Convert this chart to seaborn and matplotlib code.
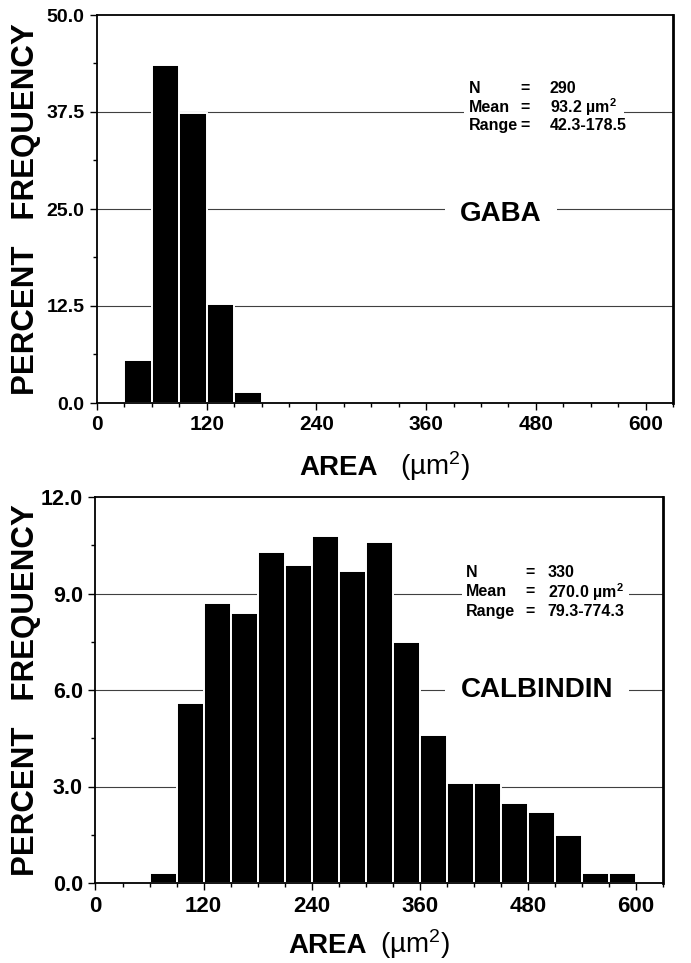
import pandas as pd
import seaborn as sns
import matplotlib.pyplot as plt
from matplotlib.patches import Rectangle
from matplotlib.ticker import MultipleLocator, FixedLocator
from matplotlib.transforms import ScaledTranslation, blended_transform_factory

# bin starts (um^2), every bin is 30 um^2 wide; heights are percent frequency
gaba_start = [30, 60, 90, 120, 150]
gaba_pct = [5.5, 43.5, 37.4, 12.7, 1.4]
gaba_stats = ['290', '93.2 µm$^2$', '42.3-178.5']

calb_start = [60, 90, 120, 150, 180, 210, 240, 270, 300, 330, 360, 390,
              420, 450, 480, 510, 540, 570]
calb_pct = [0.3, 5.6, 8.7, 8.4, 10.3, 9.9, 10.8, 9.7, 10.6, 7.5, 4.6, 3.1,
            3.1, 2.5, 2.2, 1.5, 0.3, 0.3]
calb_stats = ['330', '270.0 µm$^2$', '79.3-774.3']

stat_names = ['N', 'Mean', 'Range']
x_ticks = [0, 120, 240, 360, 480, 600]
gaba_yticks = [0.0, 12.5, 25.0, 37.5, 50.0]
calb_yticks = [0.0, 3.0, 6.0, 9.0, 12.0]
binw = 30

sns.set_style('ticks')
FONT = ['Liberation Sans', 'DejaVu Sans']
plt.rcParams['font.family'] = FONT
plt.rcParams['font.weight'] = 'bold'
plt.rcParams['mathtext.default'] = 'regular'
for k in ['text.color', 'axes.labelcolor', 'xtick.color', 'ytick.color',
          'axes.edgecolor']:
    plt.rcParams[k] = 'black'

W, H = 691, 963
fig = plt.figure(figsize=(W / 100, H / 100), dpi=100)


def px_rect(l, t, r, b):
    return [l / W, 1 - b / H, (r - l) / W, (b - t) / H]


def panel(rect, start, pct, yticks, name, stats, ytick_fs, xtick_fs, lab_dx,
          name_pos, stat_x, stat_y, row_gap, white_box):
    ax = fig.add_axes(rect)
    df = pd.DataFrame({'mid': [s + binw / 2 for s in start], 'pct': pct})
    sns.histplot(data=df, x='mid', weights='pct', binwidth=binw,
                 binrange=(start[0], start[-1] + binw),
                 color='black', edgecolor='white', linewidth=1.4, alpha=1,
                 ax=ax)
    ax.set_xlim(0, 630)
    ax.set_ylim(yticks[0], yticks[-1])
    ax.set_xlabel('')
    ax.set_ylabel('')

    ax.xaxis.set_major_locator(FixedLocator(x_ticks))
    ax.xaxis.set_minor_locator(MultipleLocator(30))
    ax.yaxis.set_major_locator(FixedLocator(yticks))
    ax.yaxis.set_minor_locator(MultipleLocator((yticks[1] - yticks[0]) / 2))
    ax.set_yticklabels([f'{v:.1f}' for v in yticks], weight='bold',
                       fontsize=ytick_fs)
    ax.set_xticklabels([str(v) for v in x_ticks], weight='bold',
                       fontsize=xtick_fs)
    # labels in the original sit a little right of their ticks
    for lab in ax.get_xticklabels():
        lab.set_transform(lab.get_transform() +
                          ScaledTranslation(lab_dx / 100, 0, fig.dpi_scale_trans))
    ax.tick_params(which='major', direction='out', length=5, width=1,
                   pad=4, colors='black')
    ax.tick_params(which='minor', direction='out', length=3, width=1)

    for yv in yticks[1:-1]:
        ax.axhline(yv, color='0.25', lw=0.8, zorder=0.5)
    for s in ax.spines.values():
        s.set_linewidth(1.3)
    ax.spines['right'].set_linewidth(2)

    # white area behind the stats block interrupts the grid line
    ax.add_patch(Rectangle((white_box[0], 0.725), white_box[1] - white_box[0],
                           0.05, transform=ax.transAxes, facecolor='white',
                           edgecolor='none', zorder=1.5))
    for i, (lab, val) in enumerate(zip(stat_names, stats)):
        yy = stat_y + (1 - i) * row_gap
        ax.text(stat_x[0], yy, lab, transform=ax.transAxes, ha='left',
                va='center', fontsize=11.5, zorder=3)
        ax.text(stat_x[1], yy, '=', transform=ax.transAxes, ha='center',
                va='center', fontsize=11.5, zorder=3)
        ax.text(stat_x[2], yy, val, transform=ax.transAxes, ha='left',
                va='center', fontsize=11.5, zorder=3)

    tr = blended_transform_factory(ax.transAxes, ax.transData)
    ax.text(name_pos[0], name_pos[1], name, transform=tr, ha='center',
            va='center', fontsize=20, zorder=3,
            bbox=dict(boxstyle='square,pad=0.55', facecolor='white',
                      edgecolor='none'))
    return ax


ax1 = panel(px_rect(97, 15, 673, 403), gaba_start, gaba_pct, gaba_yticks,
            'GABA', gaba_stats, 14, 15, 17, (0.701, 24.3),
            (0.646, 0.743, 0.786), 0.762, 0.048, (0.637, 0.915))
ax2 = panel(px_rect(95.5, 497, 663, 883), calb_start, calb_pct, calb_yticks,
            'CALBINDIN', calb_stats, 15.5, 16, 11, (0.778, 6.0),
            (0.653, 0.766, 0.797), 0.754, 0.05, (0.645, 0.94))

for yc in [209, 690]:
    fig.text(26 / W, 1 - yc / H, 'PERCENT   FREQUENCY', rotation=90,
             ha='center', va='center', weight='bold', fontsize=22.5)

# x axis titles: bold AREA, lighter unit
fig.text(378 / W, 1 - 475 / H, 'AREA', ha='right', va='baseline',
         weight='bold', fontsize=20)
fig.text(400 / W, 1 - 475 / H, '(µm$^2$)', ha='left', va='baseline',
         weight='normal', fontsize=20)
fig.text(367 / W, 1 - 953 / H, 'AREA', ha='right', va='baseline',
         weight='bold', fontsize=20)
fig.text(380 / W, 1 - 953 / H, '(µm$^2$)', ha='left', va='baseline',
         weight='normal', fontsize=20)

fig.savefig('out.png', dpi=100, facecolor='white')
